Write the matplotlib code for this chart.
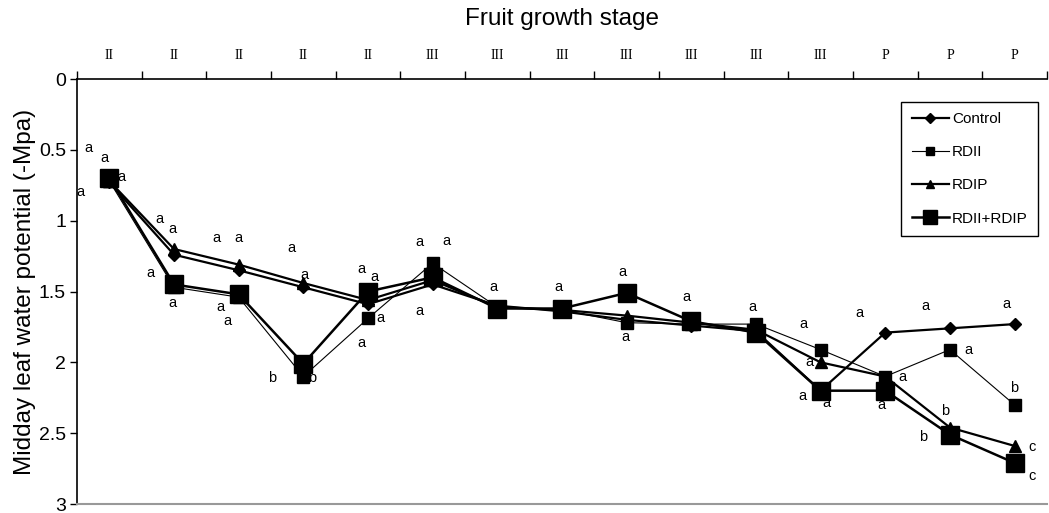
import matplotlib.pyplot as plt
from matplotlib.ticker import FixedLocator, NullFormatter, FixedFormatter

plt.rcParams['font.family'] = ['Liberation Sans', 'DejaVu Sans']

# Fruit growth stage for each sampling date
stages = ['II', 'II', 'II', 'II', 'II', 'III', 'III', 'III', 'III', 'III', 'III', 'III', 'P', 'P', 'P']

# Midday leaf water potential (-MPa)
control = [0.73, 1.24, 1.35, 1.47, 1.59, 1.45, 1.60, 1.64, 1.70, 1.74, 1.78, 2.20, 1.79, 1.76, 1.73]
rdii = [0.72, 1.47, 1.54, 2.10, 1.69, 1.30, 1.61, 1.63, 1.72, 1.73, 1.73, 1.91, 2.10, 1.91, 2.30]
rdip = [0.72, 1.20, 1.31, 1.44, 1.56, 1.42, 1.61, 1.63, 1.67, 1.72, 1.77, 2.00, 2.10, 2.46, 2.59]
rdii_rdip = [0.70, 1.45, 1.52, 2.01, 1.50, 1.40, 1.62, 1.62, 1.51, 1.71, 1.79, 2.20, 2.20, 2.51, 2.71]

# significance letters: (x position, y value, letter)
letters = [
    (-0.32, 0.49, 'a'), (-0.07, 0.56, 'a'), (0.19, 0.69, 'a'), (-0.45, 0.80, 'a'),
    (0.77, 0.99, 'a'), (0.97, 1.06, 'a'), (0.64, 1.37, 'a'), (0.97, 1.58, 'a'),
    (1.66, 1.12, 'a'), (1.99, 1.12, 'a'), (1.72, 1.61, 'a'), (1.83, 1.71, 'a'),
    (2.82, 1.19, 'a'), (3.01, 1.38, 'a'), (2.51, 2.11, 'b'), (3.13, 2.11, 'b'),
    (3.90, 1.34, 'a'), (4.10, 1.40, 'a'), (4.20, 1.69, 'a'), (3.90, 1.86, 'a'),
    (4.80, 1.15, 'a'), (5.22, 1.14, 'a'), (4.80, 1.64, 'a'),
    (5.94, 1.47, 'a'), (6.95, 1.47, 'a'), (7.94, 1.36, 'a'), (7.98, 1.82, 'a'),
    (8.93, 1.54, 'a'), (9.95, 1.61, 'a'),
    (10.74, 1.73, 'a'), (10.83, 2.00, 'a'), (10.72, 2.24, 'a'), (11.09, 2.29, 'a'),
    (11.60, 1.65, 'a'), (12.26, 2.10, 'a'), (11.94, 2.30, 'a'),
    (12.62, 1.60, 'a'), (13.29, 1.91, 'a'), (12.93, 2.34, 'b'), (12.59, 2.53, 'b'),
    (13.87, 1.59, 'a'), (13.99, 2.18, 'b'), (14.27, 2.60, 'c'), (14.27, 2.80, 'c'),
]

x = list(range(len(stages)))

fig = plt.figure(figsize=(10.49, 5.13), dpi=100)
ax = fig.add_axes([0.0734, 0.0175, 0.9246, 0.8285])

ax.plot(x, control, color='black', lw=1.6, marker='D', ms=6, label='Control')
ax.plot(x, rdii, color='black', lw=0.8, marker='s', ms=8, label='RDII')
ax.plot(x, rdip, color='black', lw=1.6, marker='^', ms=8, label='RDIP')
ax.plot(x, rdii_rdip, color='black', lw=1.8, marker='s', ms=13, label='RDII+RDIP')

for lx, ly, s in letters:
    ax.text(lx, ly, s, fontsize=10.5, ha='center', va='center')

ax.set_xlim(-0.5, len(stages) - 0.5)
ax.set_ylim(3, 0)
ax.set_yticks([0, 0.5, 1, 1.5, 2, 2.5, 3])
ax.set_yticklabels(['0', '0.5', '1', '1.5', '2', '2.5', '3'], fontsize=14)
ax.tick_params(axis='y', direction='out', length=5, width=1, pad=3)

ax.xaxis.tick_top()
ax.xaxis.set_major_locator(FixedLocator([i - 0.5 for i in range(len(stages) + 1)]))
ax.xaxis.set_major_formatter(NullFormatter())
ax.xaxis.set_minor_locator(FixedLocator(x))
ax.xaxis.set_minor_formatter(FixedFormatter(stages))
ax.tick_params(axis='x', which='major', direction='out', length=6, width=1)
ax.tick_params(axis='x', which='minor', length=0, pad=12)
for lab in ax.xaxis.get_minorticklabels():
    lab.set_fontfamily('Liberation Serif')
    lab.set_fontsize(10)

ax.spines['right'].set_visible(False)
ax.spines['top'].set_linewidth(1.2)
ax.spines['left'].set_linewidth(1.2)
ax.spines['bottom'].set_color('#999999')
ax.spines['bottom'].set_linewidth(1.5)

ax.set_ylabel('Midday leaf water potential (-Mpa)', fontsize=17.5, labelpad=2)
ax.text(0.5, 1.0, 'Fruit growth stage', transform=ax.transAxes, fontsize=17.5,
        ha='center', va='center', position=(0.5, 1 + 60 / 425))

leg = ax.legend(loc='upper right', bbox_to_anchor=(0.999, 0.965), fontsize=11,
                fancybox=False, edgecolor='black', framealpha=1,
                labelspacing=1.25, handlelength=2.4, handletextpad=0.2,
                borderpad=0.7, markerscale=0.8)
leg.get_frame().set_linewidth(1)

fig.savefig('out.png', dpi=100)
